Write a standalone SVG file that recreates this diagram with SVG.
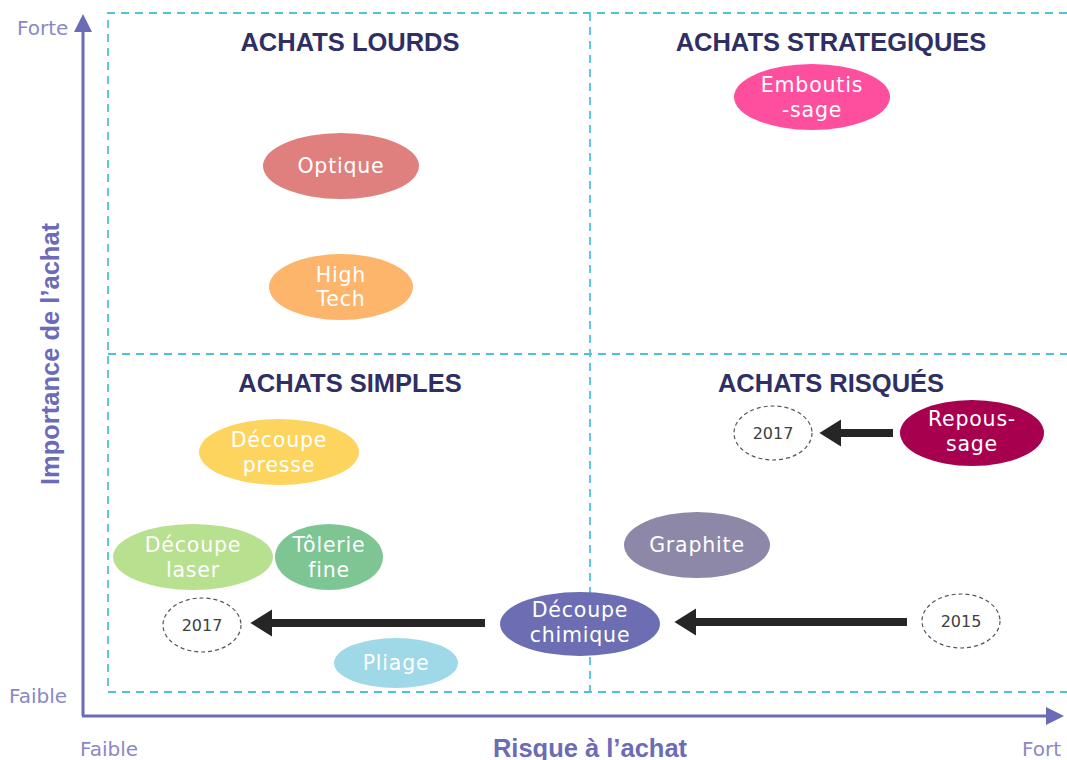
<svg xmlns="http://www.w3.org/2000/svg" width="1067" height="760" viewBox="0 0 1067 760">
<style>
.title{font-family:"Liberation Sans",Arial,sans-serif;font-weight:bold;font-size:25.5px;fill:#2f2f63;text-anchor:middle}
.lbl{font-family:"DejaVu Sans",sans-serif;font-size:20.5px;letter-spacing:0.8px;fill:#ffffff;text-anchor:middle}
.yr{font-family:"DejaVu Sans",sans-serif;font-size:16px;fill:#404040;text-anchor:middle}
.ax{font-family:"DejaVu Sans",sans-serif;font-size:20px;fill:#8a88c6}
.axt{font-family:"Liberation Sans",Arial,sans-serif;font-weight:bold;font-size:25.5px;fill:#6b6bb7;text-anchor:middle}
.dash{fill:none;stroke:#4fc3d6;stroke-width:1.8;stroke-dasharray:8,6}
.yrc{fill:#ffffff;stroke:#555;stroke-width:1.2;stroke-dasharray:4,3}
.arr{stroke:#262626;stroke-width:8;fill:none;marker-end:url(#ah)}
</style>
<defs>
<marker id="ah" markerWidth="4" markerHeight="4" refX="1" refY="2" orient="auto" markerUnits="strokeWidth">
<path d="M0,0 L0,4 L3.2,2 Z" fill="#262626" transform="translate(-0.5,0)"/>
</marker>
<marker id="ax" markerWidth="6" markerHeight="6" refX="4" refY="3" orient="auto" markerUnits="strokeWidth">
<path d="M0,0 L6,3 L0,6 Z" fill="#6b6bb7"/>
</marker>
</defs>
<rect width="1067" height="760" fill="#ffffff"/>
<g id="grid">
<path class="dash" d="M1067,13 H108 V692 H1067"/>
<path class="dash" d="M590,13 V692"/>
<path class="dash" d="M108,354 H1067"/>
</g>
<g id="axes">
<line x1="83" y1="716" x2="83" y2="20" stroke="#6b6bb7" stroke-width="3" marker-end="url(#ax)"/>
<line x1="82" y1="716" x2="1058" y2="716" stroke="#6b6bb7" stroke-width="3" marker-end="url(#ax)"/>
<text class="ax" x="17" y="35">Forte</text>
<text class="ax" x="9" y="703">Faible</text>
<text class="ax" x="80" y="756">Faible</text>
<text class="ax" x="1022" y="756">Fort</text>
<text class="axt" x="590" y="757">Risque à l’achat</text>
<text class="axt" transform="translate(59,354) rotate(-90)">Importance de l’achat</text>
</g>
<g id="titles">
<text class="title" x="350" y="51">ACHATS LOURDS</text>
<text class="title" x="831" y="51">ACHATS STRATEGIQUES</text>
<text class="title" x="350" y="392">ACHATS SIMPLES</text>
<text class="title" x="831" y="392">ACHATS RISQUÉS</text>
</g>
<g id="connectors">
<line class="arr" x1="485" y1="623" x2="264" y2="623"/>
<line class="arr" x1="907" y1="622" x2="688" y2="622"/>
<line class="arr" x1="893" y1="433" x2="833" y2="433"/>
</g>
<g id="optique"><ellipse cx="341" cy="166" rx="78" ry="33" fill="#e0807e"/><text class="lbl" x="341" y="173">Optique</text></g>
<g id="hightech"><ellipse cx="341" cy="287" rx="72" ry="33" fill="#fdb46b"/><text class="lbl" x="341" y="282">High</text><text class="lbl" x="341" y="306">Tech</text></g>
<g id="emboutissage"><ellipse cx="812" cy="97" rx="78" ry="33" fill="#fe4f9e"/><text class="lbl" x="812" y="92">Emboutis</text><text class="lbl" x="812" y="117">-sage</text></g>
<g id="decoupe-presse"><ellipse cx="279" cy="452" rx="80" ry="33" fill="#fdd55e"/><text class="lbl" x="279" y="447">Découpe</text><text class="lbl" x="279" y="472">presse</text></g>
<g id="decoupe-laser"><ellipse cx="193" cy="557" rx="80" ry="33" fill="#b7e08f"/><text class="lbl" x="193" y="552">Découpe</text><text class="lbl" x="193" y="577">laser</text></g>
<g id="tolerie"><ellipse cx="329" cy="557" rx="54" ry="33" fill="#7ec594"/><text class="lbl" x="329" y="552">Tôlerie</text><text class="lbl" x="329" y="577">fine</text></g>
<g id="y2017a"><ellipse class="yrc" cx="202" cy="625" rx="39" ry="27"/><text class="yr" x="202" y="631">2017</text></g>
<g id="pliage"><ellipse cx="396" cy="663" rx="62" ry="25" fill="#9fd8e6"/><text class="lbl" x="396" y="670">Pliage</text></g>
<g id="decoupe-chimique"><ellipse cx="580" cy="624" rx="80" ry="32" fill="#6c6db3"/><text class="lbl" x="580" y="617">Découpe</text><text class="lbl" x="580" y="642">chimique</text></g>
<g id="y2015"><ellipse class="yrc" cx="961" cy="621" rx="39" ry="27"/><text class="yr" x="961" y="627">2015</text></g>
<g id="graphite"><ellipse cx="697" cy="545" rx="73" ry="33" fill="#8d88a8"/><text class="lbl" x="697" y="552">Graphite</text></g>
<g id="repoussage"><ellipse cx="972" cy="433" rx="72" ry="33" fill="#a7004f"/><text class="lbl" x="972" y="426">Repous-</text><text class="lbl" x="972" y="451">sage</text></g>
<g id="y2017b"><ellipse class="yrc" cx="773" cy="433" rx="39" ry="27"/><text class="yr" x="773" y="439">2017</text></g>
</svg>
